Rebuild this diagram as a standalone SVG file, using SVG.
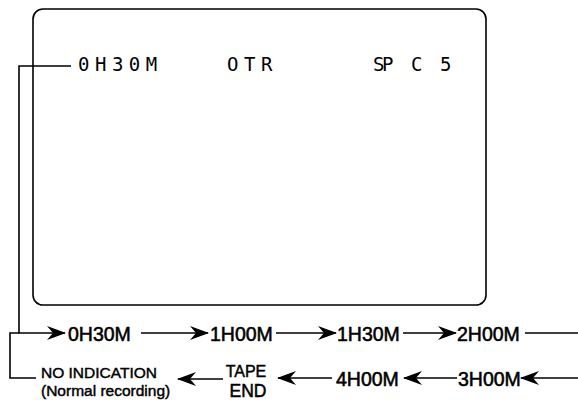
<svg xmlns="http://www.w3.org/2000/svg" width="578" height="402" viewBox="0 0 578 402">
  <style>
    .lcd { font-family: "DejaVu Sans Mono", "Liberation Mono", monospace; font-size: 19px; fill: #000; letter-spacing: 5.5px; }
    .lbl { font-family: "Liberation Sans", Arial, sans-serif; font-size: 19.5px; fill: #000; stroke: #000; stroke-width: 0.55; }
    .sm { font-size: 15.5px; stroke-width: 0.45; }
    .ln { fill: none; stroke: #000; stroke-width: 1.6; }
    .arr { marker-end: url(#ah); }
  </style>
  <defs>
    <marker id="ah" viewBox="0 0 19 14" refX="18" refY="7" markerWidth="19" markerHeight="14" markerUnits="userSpaceOnUse" orient="auto">
      <path d="M19,7 L0,0 L6,7 L0,14 Z" fill="#000"/>
    </marker>
  </defs>
  <rect width="578" height="402" fill="#fff"/>

  <g id="screen">
    <rect x="33" y="9" width="453" height="296" rx="10" ry="10" fill="none" stroke="#000" stroke-width="1.6"/>
    <text class="lcd" x="78" y="71">0H30M</text>
    <text class="lcd" x="227" y="71">OTR</text>
    <text class="lcd" x="373" y="71" style="letter-spacing:-2.4px">SP</text>
    <text class="lcd" x="411" y="71">C</text>
    <text class="lcd" x="440" y="71">5</text>
  </g>

  <g id="n-0h30m"><text class="lbl" x="68" y="341">0H30M</text></g>
  <g id="n-1h00m"><text class="lbl" x="210" y="341">1H00M</text></g>
  <g id="n-1h30m"><text class="lbl" x="337" y="341">1H30M</text></g>
  <g id="n-2h00m"><text class="lbl" x="457" y="341">2H00M</text></g>
  <g id="n-3h00m"><text class="lbl" x="458" y="386">3H00M</text></g>
  <g id="n-4h00m"><text class="lbl" x="336" y="386">4H00M</text></g>
  <g id="n-tapeend">
    <text class="lbl" x="246" y="377" text-anchor="middle" style="font-size:16px;stroke-width:0.45">TAPE</text>
    <text class="lbl" x="248" y="397" text-anchor="middle" style="font-size:19px" textLength="37" lengthAdjust="spacingAndGlyphs">END</text>
  </g>
  <g id="n-noind">
    <text class="lbl sm" x="41" y="378">NO INDICATION</text>
    <text class="lbl sm" x="41" y="396">(Normal recording)</text>
  </g>

  <g id="connectors">
    <path class="ln arr" d="M71,66 H19 V333 H65"/>
    <path class="ln" d="M19,333 H10 V378 H36"/>
    <path class="ln arr" d="M141,333 H208"/>
    <path class="ln arr" d="M276,333 H336"/>
    <path class="ln arr" d="M403,333 H456"/>
    <path class="ln" d="M525,333 H578"/>
    <path class="ln arr" d="M578,378 H521"/>
    <path class="ln arr" d="M457,378 H404"/>
    <path class="ln arr" d="M332,378 H278"/>
    <path class="ln arr" d="M223,379 H178"/>
  </g>
</svg>
